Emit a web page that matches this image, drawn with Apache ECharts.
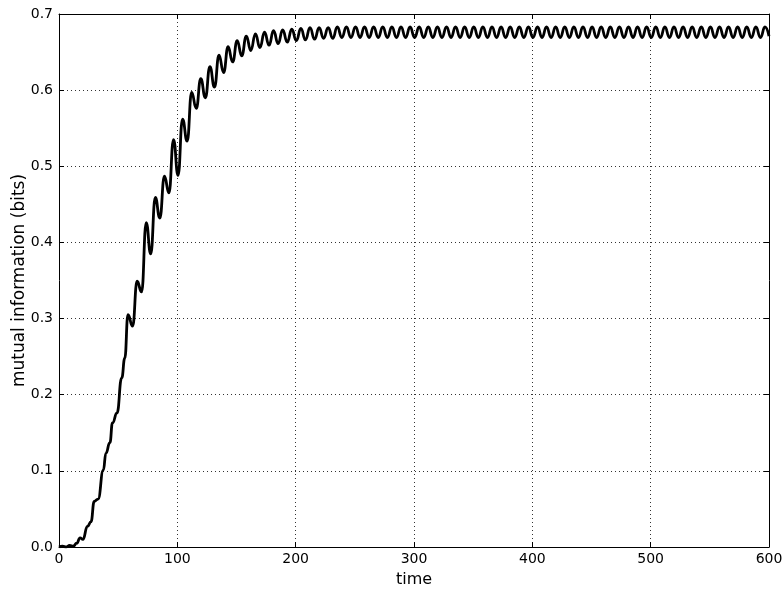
<!DOCTYPE html>
<html>
<head>
<meta charset="utf-8">
<script src="https://cdn.jsdelivr.net/npm/echarts@6/dist/echarts.min.js"></script>
<style>
html,body{margin:0;padding:0;background:#fff;}
#chart{width:784px;height:590px;}
</style>
</head>
<body>
<div id="chart"></div>
<script>
// time samples (start, then alternating peaks / troughs)
const times = [
  0, 3, 6, 9, 12, 15, 17.8, 20.2, 24, 27, 29.8, 33, 37.5, 39.6, 43, 45.2, 49, 53, 55.6,
  58.3, 62.2, 66.0, 69.8, 73.7, 77.5, 81.4, 85.2, 89.1, 92.9, 96.8, 100.6, 104.4, 108.3,
  112.1, 116.0, 119.8, 123.7, 127.5, 131.4, 135.2, 139.1, 142.9, 146.7, 150.6, 154.4,
  158.3, 162.1, 166.0, 169.8, 173.7, 177.5, 181.3, 185.2, 189.0, 192.9, 196.7, 200.6,
  204.4, 208.3, 212.1, 216.0, 219.8, 223.6, 227.5, 231.3, 235.2, 239.0, 242.9, 246.7,
  250.6, 254.4, 258.2, 262.1, 265.9, 269.8, 273.6, 277.5, 281.3, 285.2, 289.0, 292.9,
  296.7, 300.5, 304.4, 308.2, 312.1, 315.9, 319.8, 323.6, 327.5, 331.3, 335.1, 339.0,
  342.8, 346.7, 350.5, 354.4, 358.2, 362.1, 365.9, 369.8, 373.6, 377.4, 381.3, 385.1,
  389.0, 392.8, 396.7, 400.5, 404.4, 408.2, 412.0, 415.9, 419.7, 423.6, 427.4, 431.3,
  435.1, 439.0, 442.8, 446.7, 450.5, 454.3, 458.2, 462.0, 465.9, 469.7, 473.6, 477.4,
  481.3, 485.1, 488.9, 492.8, 496.6, 500.5, 504.3, 508.2, 512.0, 515.9, 519.7, 523.6,
  527.4, 531.2, 535.1, 538.9, 542.8, 546.6, 550.5, 554.3, 558.2, 562.0, 565.8, 569.7,
  573.5, 577.4, 581.2, 585.1, 588.9, 592.8, 596.6, 600
];
// mutual information (bits) at those times
const mutualInfo = [
  0.000, 0.001, 0.000, 0.002, 0.001, 0.005, 0.012, 0.010, 0.027, 0.033, 0.060, 0.063, 0.101, 0.123, 0.137, 0.163, 0.176, 0.222, 0.248,
  0.305, 0.290, 0.349, 0.335, 0.426, 0.385, 0.459, 0.432, 0.487, 0.465, 0.535, 0.488, 0.562, 0.533,
  0.597, 0.576, 0.615, 0.590, 0.631, 0.604, 0.646, 0.623, 0.657, 0.637, 0.665, 0.645,
  0.671, 0.652, 0.674, 0.656, 0.676, 0.659, 0.678, 0.661, 0.679, 0.663, 0.680, 0.665,
  0.681, 0.666, 0.682, 0.667, 0.682, 0.668, 0.682, 0.668, 0.683, 0.669, 0.683, 0.669,
  0.683, 0.669, 0.683, 0.669, 0.683, 0.669, 0.683, 0.669, 0.683, 0.669, 0.683, 0.669,
  0.683, 0.669, 0.683, 0.669, 0.683, 0.669, 0.683, 0.669, 0.683, 0.669, 0.683, 0.669,
  0.683, 0.669, 0.683, 0.669, 0.683, 0.669, 0.683, 0.669, 0.683, 0.669, 0.683, 0.669,
  0.683, 0.669, 0.683, 0.669, 0.683, 0.669, 0.683, 0.669, 0.683, 0.669, 0.683, 0.669,
  0.683, 0.669, 0.683, 0.669, 0.683, 0.669, 0.683, 0.669, 0.683, 0.669, 0.683, 0.669,
  0.683, 0.669, 0.683, 0.669, 0.683, 0.669, 0.683, 0.669, 0.683, 0.669, 0.683, 0.669,
  0.683, 0.669, 0.683, 0.669, 0.683, 0.669, 0.683, 0.669, 0.683, 0.669, 0.683, 0.669,
  0.683, 0.669, 0.683, 0.669, 0.683, 0.669, 0.683, 0.671
];
const xTicks = [0, 100, 200, 300, 400, 500, 600];
const yTicks = [0.0, 0.1, 0.2, 0.3, 0.4, 0.5, 0.6, 0.7];

const seriesData = times.map((t, i) => [t, mutualInfo[i]]);
const font = 'DejaVu Sans';

const baseX = {
  type: 'value', min: xTicks[0], max: xTicks[xTicks.length - 1], interval: 100,
  axisLine: { show: true, onZero: false, lineStyle: { color: '#000', width: 1 } },
  axisTick: { show: true, inside: true, length: 5, lineStyle: { color: '#000' } },
  splitLine: { show: false }
};
const baseY = {
  type: 'value', min: yTicks[0], max: yTicks[yTicks.length - 1], interval: 0.1,
  axisLine: { show: true, onZero: false, lineStyle: { color: '#000', width: 1 } },
  axisTick: { show: true, inside: true, length: 5, lineStyle: { color: '#000' } },
  splitLine: { show: false }
};

const chart = echarts.init(document.getElementById('chart'), null, { renderer: 'canvas' });
chart.setOption({
  animation: false,
  backgroundColor: '#fff',
  grid: { left: 59, right: 15, top: 14, bottom: 43, containLabel: false, outerBoundsMode: 'none' },
  xAxis: [
    Object.assign({}, baseX, {
      position: 'bottom',
      name: 'time', nameLocation: 'middle', nameGap: 25, nameMoveOverlap: false,
      nameTextStyle: { fontFamily: font, fontSize: 16, color: '#000' },
      axisLabel: { fontFamily: font, fontSize: 14, color: '#000', margin: 5,
        formatter: v => String(v) },
      splitLine: { show: true, lineStyle: { color: '#000', width: 1, type: [1, 3], opacity: 0.8 } }
    }),
    Object.assign({}, baseX, { position: 'top', axisLabel: { show: false } })
  ],
  yAxis: [
    Object.assign({}, baseY, {
      position: 'left',
      name: 'mutual information (bits)', nameLocation: 'middle', nameGap: 31, nameMoveOverlap: false,
      nameTextStyle: { fontFamily: font, fontSize: 17, color: '#000' },
      axisLabel: { fontFamily: font, fontSize: 14, color: '#000', margin: 6,
        formatter: v => v.toFixed(1) },
      splitLine: { show: true, lineStyle: { color: '#000', width: 1, type: [1, 3], opacity: 0.8 } }
    }),
    Object.assign({}, baseY, { position: 'right', axisLabel: { show: false } })
  ],
  series: [{
    type: 'line',
    xAxisIndex: 0, yAxisIndex: 0,
    data: seriesData,
    showSymbol: false,
    smooth: 0.5,
    smoothMonotone: 'x',
    lineStyle: { color: '#000', width: 2.8 },
    clip: true
  }]
});
</script>
</body>
</html>
